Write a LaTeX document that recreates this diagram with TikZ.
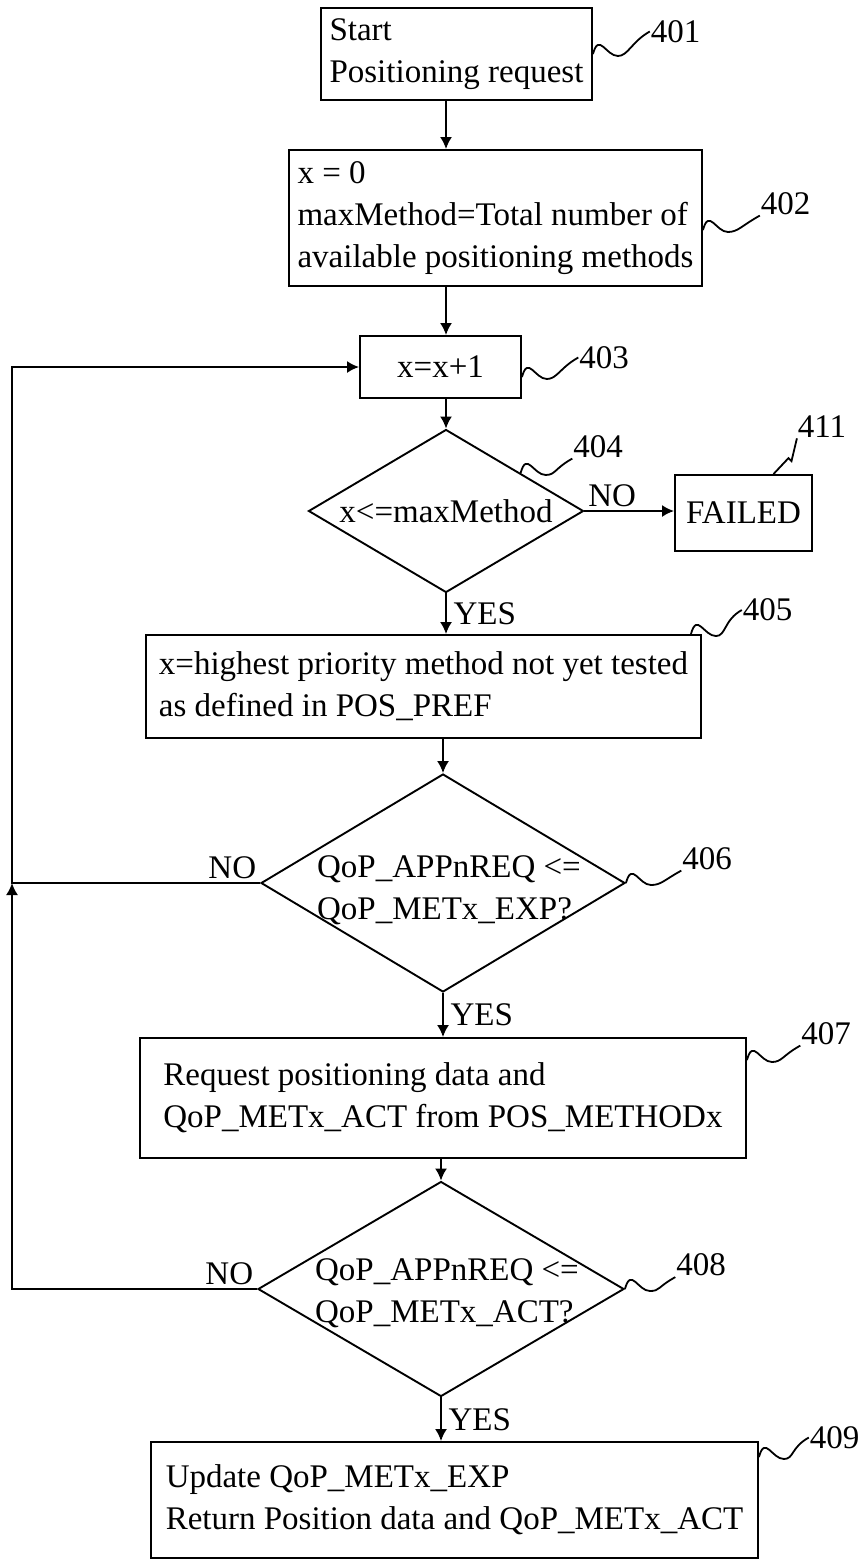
\documentclass[tikz,border=0pt]{standalone}
\usepackage{fontspec}
\setmainfont{Liberation Serif}
\usetikzlibrary{%
  arrows.meta,%
  shapes.geometric,% wg. diamond
  positioning%
}

\begin{document}
\begin{tikzpicture}[x=0.5pt,y=-0.5pt,line width=0.95pt,
  >={Latex[length=6pt,width=6pt]},
  font=\fontsize{16.5}{21}\selectfont,
  box/.style={draw,rectangle,align=left,inner sep=0pt},
  decision/.style={draw,diamond,inner sep=0pt},
  dtext/.style={align=left,inner sep=0pt},
  num/.style={inner sep=0pt},
  lead/.style={line width=0.9pt}]
 \useasboundingbox (0,0) rectangle (858,1560);

   % Kaesten und Entscheidungen
   \node[box,minimum width=135.5pt,minimum height=46pt] (b401) at (456.5,54) {Start\\Positioning request};
   \node[box,minimum width=206.5pt,minimum height=68pt] (b402) at (495.5,218) {x = 0\\maxMethod=Total number of\\available positioning methods};
   \node[box,align=center,minimum width=80.5pt,minimum height=31pt] (b403) at (440.5,367) {x=x+1};

   \node[decision,minimum width=137.5pt,minimum height=81.5pt] (d404) at (446,511) {};
   \node[dtext] (t404) at (d404) {x<=maxMethod};
   \node[box,align=center,minimum width=68.5pt,minimum height=38pt] (f411) at (743.5,513) {FAILED};

   \node[box,minimum width=277.5pt,minimum height=51.5pt] (b405) at (423.5,686.5) {x=highest priority method not yet tested\\as defined in POS\_PREF};

   \node[decision,minimum width=182pt,minimum height=109pt] (d406) at (443,883) {};
   \node[dtext] (t406) at (449,890) {QoP\_APPnREQ <=\\QoP\_METx\_EXP?};

   \node[box,minimum width=303pt,minimum height=60pt] (b407) at (443,1098) {Request positioning data and\\QoP\_METx\_ACT from POS\_METHODx};

   \node[decision,minimum width=183pt,minimum height=107.5pt] (d408) at (441,1289) {};
   \node[dtext] (t408) at (447,1293) {QoP\_APPnREQ <=\\QoP\_METx\_ACT?};

   \node[box,minimum width=303.5pt,minimum height=58pt] (b409) at (454.5,1500) {Update QoP\_METx\_EXP\\Return Position data and QoP\_METx\_ACT};

   % Bezugszeichen
   \node[num] (l401) at (675.5,31.5) {401};
   \node[num] (l402) at (785.5,203.5) {402};
   \node[num] (l403) at (604,357.5) {403};
   \node[num] (l404) at (598,446.5) {404};
   \node[num] (l405) at (767.5,610) {405};
   \node[num] (l406) at (707,858.5) {406};
   \node[num] (l407) at (826,1033.5) {407};
   \node[num] (l408) at (701,1265) {408};
   \node[num] (l409) at (834.5,1437.5) {409};
   \node[num] (l411) at (822,426.5) {411};

   \draw[lead] (b401.east) .. controls +(6,-22) and +(-12,0) .. ++(25,2) .. controls +(10,0) and +(-18,10) .. (l401.west);
   \draw[lead] ([yshift=-6pt]b402.east) .. controls +(6,-22) and +(-12,0) .. ++(25,2) .. controls +(10,0) and +(-18,10) .. (l402.south west);
   \draw[lead] ([yshift=-5pt]b403.east) .. controls +(6,-22) and +(-12,0) .. ++(25,2) .. controls +(10,0) and +(-18,10) .. (l403.west);
   \draw[lead] (d404.27) .. controls +(6,-22) and +(-12,0) .. ++(25,2) .. controls +(10,0) and +(-18,10) .. (l404.south west);
   \draw[lead] ([xshift=-5.5pt]b405.north east) .. controls +(6,-22) and +(-12,0) .. ++(25,2) .. controls +(10,0) and +(-18,10) .. (l405.west);
   \draw[lead] (d406.east) .. controls +(6,-22) and +(-12,0) .. ++(25,2) .. controls +(10,0) and +(-18,10) .. (l406.south west);
   \draw[lead] ([yshift=19pt]b407.east) .. controls +(6,-22) and +(-12,0) .. ++(25,2) .. controls +(10,0) and +(-18,10) .. (l407.south west);
   \draw[lead] (d408.east) .. controls +(6,-22) and +(-12,0) .. ++(25,2) .. controls +(10,0) and +(-18,10) .. (l408.south west);
   \draw[lead] ([yshift=21.5pt]b409.east) .. controls +(6,-22) and +(-12,0) .. ++(25,2) .. controls +(10,0) and +(-18,10) .. (l409.west);
   \draw[lead] ([xshift=15pt]f411.north) -- ++(15,-16) -- ++(3,3) -- (l411.south west);

   % Hauptpfad
   \draw[->] (b401.south -| d404.north) -- (b402.north -| d404.north);
   \draw[->] (b402.south -| d404.north) -- (b403.north -| d404.north);
   \draw[->] (b403.south -| d404.north) -- (d404.north);
   \draw[->] (d404.east) node[anchor=south west,inner sep=1.5pt]{NO} -- (d404.east -| f411.west);
   \draw[->] (d404.south) -- (d404.south |- b405.north) node[midway,right]{YES};
   \draw[->] (b405.south -| d406.north) -- (d406.north);
   \draw[->] (d406.south) -- (d406.south |- b407.north) node[midway,right]{YES};
   \draw[->] (b407.south -| d408.north) -- (d408.north);
   \draw[->] (d408.south) -- (d408.south |- b409.north) node[midway,right]{YES};

   % Rueckfuehrung links
   \coordinate (links) at (12,367);
   \draw[->] (d406.west) node[anchor=south east,inner sep=1.5pt]{NO} -- (d406.west -| links) -- (links) -- (b403.west);
   \draw[->] (d408.west) node[anchor=south east,inner sep=1.5pt]{NO} -- (d408.west -| links) -- (d406.west -| links);

\end{tikzpicture}
\end{document}
